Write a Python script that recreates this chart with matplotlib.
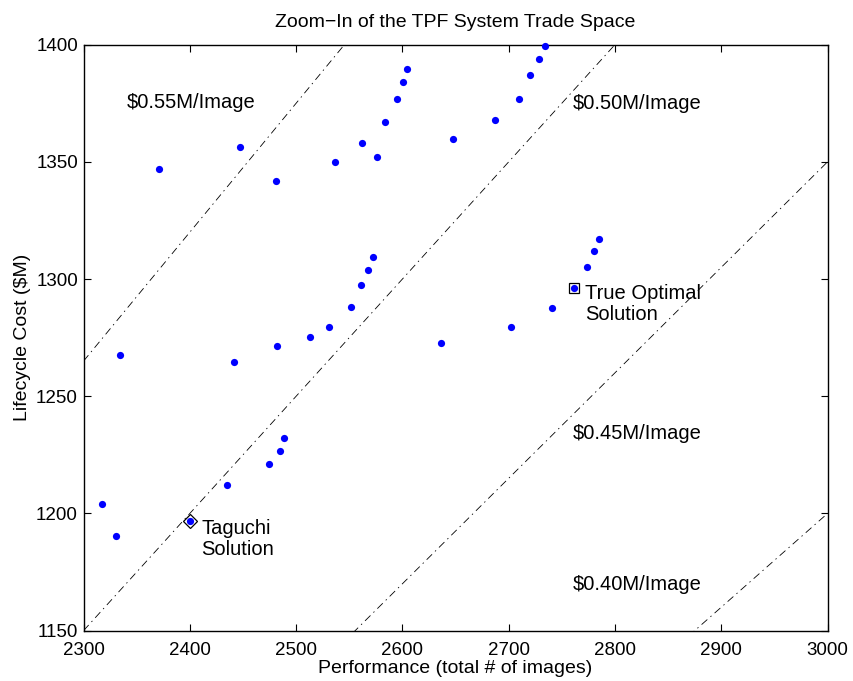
import numpy as np
import matplotlib
matplotlib.use("Agg")
import matplotlib.pyplot as plt

# design points (performance, lifecycle cost)
perf = [2371, 2447, 2481, 2537, 2562, 2576, 2604, 2601, 2595, 2584,
        2648, 2687, 2710, 2720, 2728.5, 2734, 2334, 2442, 2482, 2513,
        2531, 2552, 2561, 2568, 2572, 2636, 2702, 2741, 2761, 2774,
        2780.5, 2784.6, 2317, 2331, 2400, 2435, 2474.5, 2485, 2489]
cost = [1347, 1356.5, 1342, 1350, 1358, 1352, 1389.6, 1384, 1377, 1367,
        1359.6, 1368, 1377, 1387, 1394, 1399.5, 1267.6, 1264.5, 1271.6, 1275.4,
        1279.6, 1288, 1297.5, 1304, 1309.4, 1272.6, 1279.7, 1287.5, 1296, 1305.3,
        1312, 1317.2, 1204, 1190.3, 1197, 1212, 1221, 1226.7, 1232]

taguchi = (2400, 1197)
optimal = (2761, 1296)

# cost per image lines
rates = [0.40, 0.45, 0.50, 0.55]
rate_labels = ["$0.40M/Image", "$0.45M/Image", "$0.50M/Image", "$0.55M/Image"]
label_pos = [(2760, 1169.5), (2760, 1234), (2760, 1375), (2341, 1375.5)]

plt.rcParams["font.family"] = "Liberation Sans"
plt.rcParams["lines.scale_dashes"] = False

fig = plt.figure(figsize=(8.54, 6.81), dpi=100)
ax = fig.add_axes([0.0978, 0.0739, 0.8712, 0.8605])

xs = np.array([2300, 3000])
for r in rates:
    ax.plot(xs, r * xs, color="black", lw=0.6, dashes=[5.5, 3, 1, 3], zorder=1)

ax.plot(taguchi[0], taguchi[1], marker="D", ms=7, mfc="white", mec="black", mew=0.9, zorder=2)
ax.plot(optimal[0], optimal[1], marker="s", ms=6.5, mfc="white", mec="black", mew=0.9, zorder=2)
ax.plot(perf, cost, "o", color="blue", ms=5.2, mew=0, zorder=3, clip_on=False)

for txt, (x, y) in zip(rate_labels, label_pos):
    ax.text(x, y, txt, fontsize=14.5, va="center", ha="left")
ax.text(2771.5, 1289.5, "True Optimal\nSolution", fontsize=14.5,
        va="center", ha="left", linespacing=1.15)
ax.text(2411, 1189, "Taguchi\nSolution", fontsize=14.5,
        va="center", ha="left", linespacing=1.12)

ax.set_xlim(2300, 3000)
ax.set_ylim(1150, 1400)
ax.set_xticks(np.arange(2300, 3001, 100))
ax.set_yticks(np.arange(1150, 1401, 50))
ax.tick_params(direction="in", length=5, width=0.8, top=True, right=True, labelsize=13.5)
ax.tick_params(axis="x", pad=8)
ax.tick_params(axis="y", pad=4)
for s in ax.spines.values():
    s.set_linewidth(1.0)

ax.set_title("Zoom\u2212In of the TPF System Trade Space", fontsize=14, pad=13)
ax.set_xlabel("Performance (total # of images)", fontsize=14, labelpad=1)
ax.set_ylabel("Lifecycle Cost ($M)", fontsize=14, labelpad=4)

fig.savefig("out.png", dpi=100)
